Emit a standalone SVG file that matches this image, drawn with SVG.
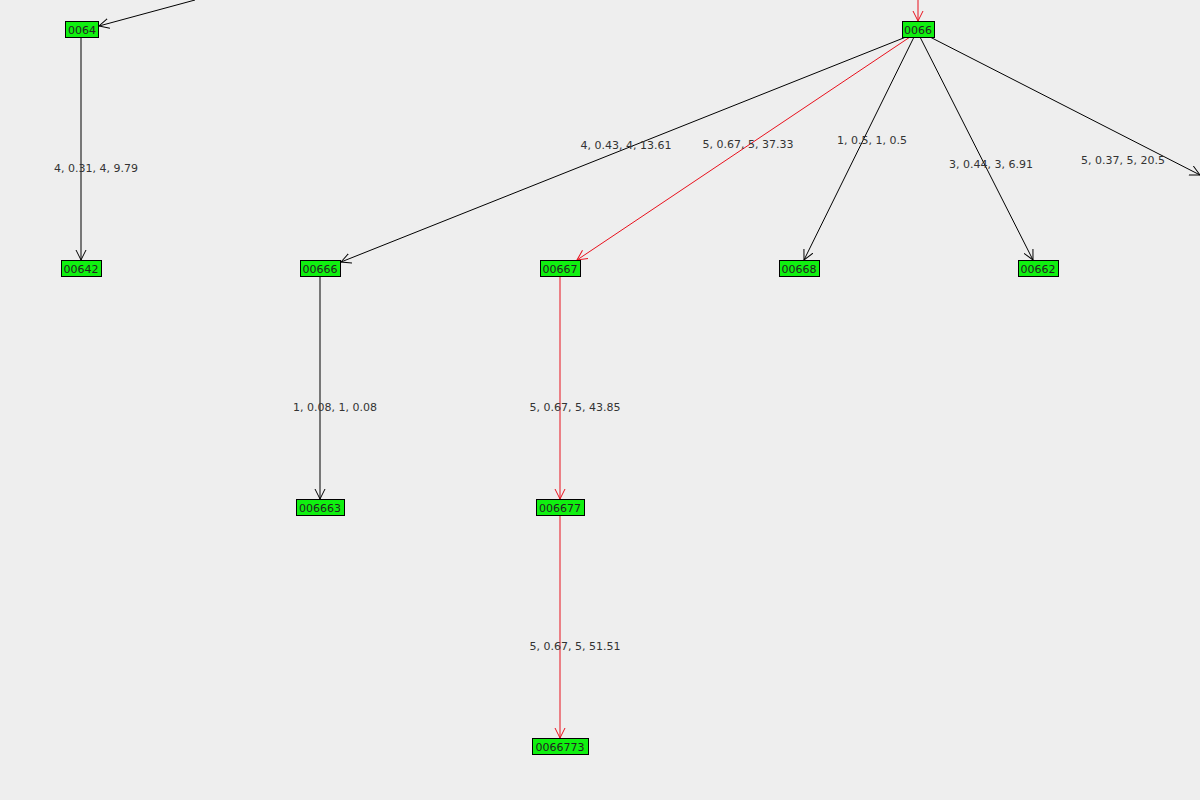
<svg xmlns="http://www.w3.org/2000/svg" width="1200" height="800" viewBox="0 0 1200 800">
<defs>
<marker id="ab" markerWidth="12" markerHeight="12" refX="10" refY="5" orient="auto" markerUnits="userSpaceOnUse" viewBox="0 0 12 10"><path d="M0,0 L10,5 L0,10" fill="none" stroke="#000" stroke-width="1"/></marker>
<marker id="ar" markerWidth="12" markerHeight="12" refX="10" refY="5" orient="auto" markerUnits="userSpaceOnUse" viewBox="0 0 12 10"><path d="M0,0 L10,5 L0,10" fill="none" stroke="#e8101c" stroke-width="1"/></marker>
</defs>
<style>
.n rect{fill:#10f010;stroke:#000;stroke-width:1}
.n text{font-family:"DejaVu Sans",sans-serif;font-size:11px;fill:#222;text-anchor:middle}
.e{stroke:#000;stroke-width:1;fill:none;marker-end:url(#ab)}
.r{stroke:#e8101c;stroke-width:1;fill:none;marker-end:url(#ar)}
.l{font-family:"DejaVu Sans",sans-serif;font-size:11px;fill:#333;text-anchor:middle}
</style>
<rect width="1200" height="800" fill="#eeeeee"/>
<g id="connectors">
<line class="e" x1="195" y1="0" x2="99" y2="26"/>
<line class="r" x1="918" y1="0" x2="918" y2="21"/>
<line class="e" x1="81" y1="37" x2="81" y2="260"/>
<line class="e" x1="906" y1="37" x2="341" y2="262"/>
<line class="r" x1="910" y1="37" x2="577" y2="260"/>
<line class="e" x1="914" y1="37" x2="804" y2="260"/>
<line class="e" x1="920" y1="37" x2="1033" y2="260"/>
<line class="e" x1="930" y1="37" x2="1200" y2="175"/>
<line class="e" x1="320" y1="276" x2="320" y2="499"/>
<line class="r" x1="560" y1="276" x2="560" y2="499"/>
<line class="r" x1="560" y1="515" x2="560" y2="738"/>
<text class="l" x="96" y="172">4, 0.31, 4, 9.79</text>
<text class="l" x="626" y="149">4, 0.43, 4, 13.61</text>
<text class="l" x="748" y="148">5, 0.67, 5, 37.33</text>
<text class="l" x="872" y="144">1, 0.5, 1, 0.5</text>
<text class="l" x="991" y="168">3, 0.44, 3, 6.91</text>
<text class="l" x="1123" y="164" text-anchor="start">5, 0.37, 5, 20.5</text>
<text class="l" x="335" y="411">1, 0.08, 1, 0.08</text>
<text class="l" x="575" y="411">5, 0.67, 5, 43.85</text>
<text class="l" x="575" y="650">5, 0.67, 5, 51.51</text>
</g>
<g id="n0064" class="n"><rect x="65.5" y="21.5" width="33" height="16"/><text x="82" y="34">0064</text></g>
<g id="n0066" class="n"><rect x="902.5" y="21.5" width="32" height="16"/><text x="918" y="34">0066</text></g>
<g id="n0642" class="n"><rect x="61.5" y="260.5" width="40" height="16"/><text x="81" y="273">00642</text></g>
<g id="n00666" class="n"><rect x="300.5" y="260.5" width="40" height="16"/><text x="320" y="273">00666</text></g>
<g id="n00667" class="n"><rect x="540.5" y="260.5" width="40" height="16"/><text x="560" y="273">00667</text></g>
<g id="n00668" class="n"><rect x="779.5" y="260.5" width="40" height="16"/><text x="799" y="273">00668</text></g>
<g id="n00662" class="n"><rect x="1018.5" y="260.5" width="40" height="16"/><text x="1038" y="273">00662</text></g>
<g id="n006663" class="n"><rect x="296.5" y="499.5" width="48" height="16"/><text x="320" y="512">006663</text></g>
<g id="n006677" class="n"><rect x="536.5" y="499.5" width="48" height="16"/><text x="560" y="512">006677</text></g>
<g id="n0066773" class="n"><rect x="532.5" y="738.5" width="56" height="16"/><text x="560" y="751">0066773</text></g>
</svg>
